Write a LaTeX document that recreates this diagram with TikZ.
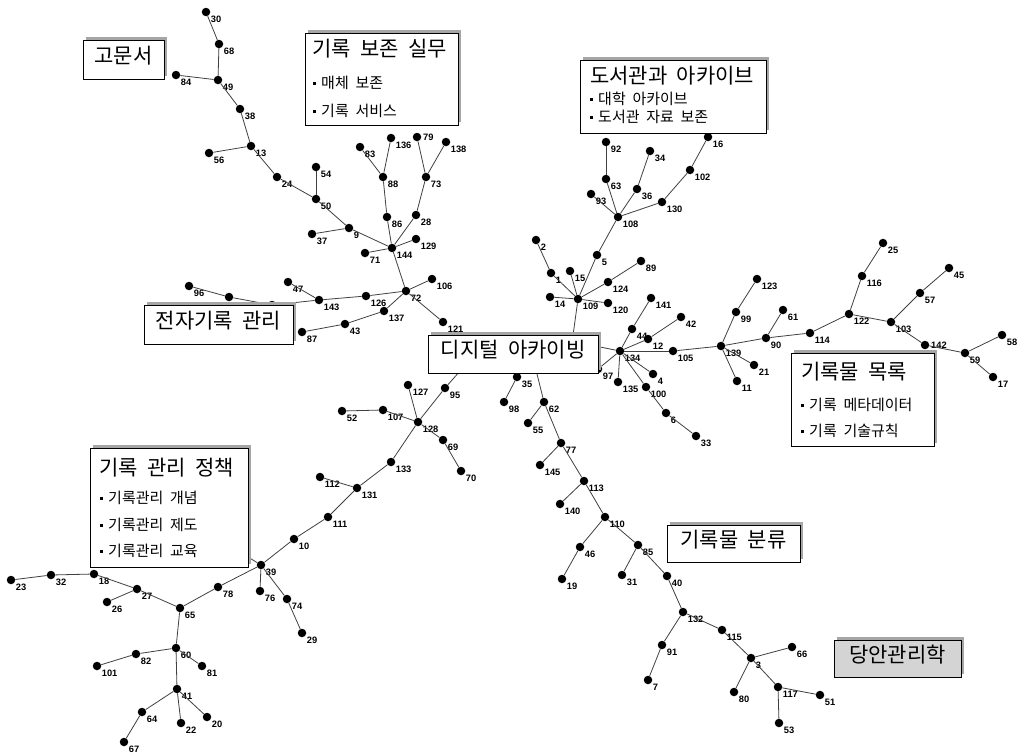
\documentclass[tikz,border=0pt]{standalone}
\usepackage{fontspec}
\usetikzlibrary{shadows}
\newfontfamily\kr[WordSpace=2]{Noto Sans CJK KR}
\newfontfamily\numfont{Liberation Sans}
% small square bullet for list items
\newcommand{\sq}{\raisebox{0.28em}{\rule{3pt}{3pt}}\hspace{5pt}}
% numbered vertex: optional label position, number, x, y
\newcommand{\vtx}[4][below right]{\node[dot,label={[lbl]#1:#2}] (n#2) at (#3,#4) {};}

\begin{document}
\begin{tikzpicture}[x=1pt,y=-1pt,
  dot/.style={circle,fill=black,inner sep=0pt,minimum size=8.5pt},
  lbl/.style={font=\numfont\bfseries\fontsize{9.3}{10}\selectfont,inner sep=0.3pt,xshift=1.2pt,text=black},
  edge/.style={draw=black!75,line width=0.8pt},
  box/.style={draw=black,line width=0.8pt,fill=white,inner sep=0pt,
    general shadow={fill=black!35,shadow xshift=3pt,shadow yshift=3pt}},
  title/.style={font=\kr\fontsize{21}{23}\selectfont,text height=0.8em,text depth=0.06em,inner sep=0pt},
  item/.style={font=\kr\fontsize{15}{17}\selectfont,text height=0.8em,text depth=0.06em,inner sep=0pt},
]
\useasboundingbox[fill=white] (0,0) rectangle (1019,755);

% ---------- upper left branch ----------
\vtx{30}{206}{12}
\vtx{68}{219}{44}
\vtx{49}{218}{80}
\vtx{84}{176}{75}
\vtx{38}{240}{109}
\vtx{13}{251}{146}
\vtx{56}{209}{153}
\vtx{24}{277}{177}
\vtx{54}{316}{167}
\vtx{50}{316}{199}
\vtx{9}{349}{228}
\vtx{37}{312}{234}
\vtx{144}{392}{248}
\vtx{71}{365}{253}
\vtx{129}{416}{239}
\vtx{86}{387}{217}
\vtx{28}{416}{215}
\vtx{88}{383}{177}
\vtx{83}{360}{147}
\vtx{136}{391}{138}
\vtx[right]{79}{417}{137}
\vtx{138}{446}{142}
\vtx{73}{426}{177}
\vtx{72}{406}{291}
\vtx{106}{432}{279}
\vtx{121}{443}{322}
\vtx{126}{366}{296}
\vtx{137}{384}{311}
\vtx{43}{345}{324}
\vtx{87}{302}{332}
\vtx{143}{319}{300}
\vtx{47}{288}{282}
\vtx{96}{189}{286}
\node[dot] (nu2) at (229,297) {};
\node[dot] (nu1) at (272,305) {};

% ---------- upper right branch ----------
\vtx{109}{578}{299}
\vtx{14}{550}{297}
\vtx{1}{551}{273}
\vtx{2}{536}{240}
\vtx{15}{570}{271}
\vtx{5}{597}{255}
\vtx{108}{618}{217}
\vtx{93}{591}{194}
\vtx{63}{606}{179}
\vtx{92}{606}{142}
\vtx{36}{637}{189}
\vtx{34}{650}{151}
\vtx{130}{662}{202}
\vtx{102}{690}{170}
\vtx{16}{708}{137}
\vtx{124}{608}{282}
\vtx{89}{641}{261}
\vtx{120}{608}{303}

% ---------- right branch ----------
\vtx{134}{620}{351}
\vtx{97}{598}{369}
\vtx{44}{632}{329}
\vtx{141}{651}{298}
\vtx{12}{648}{339}
\vtx{42}{681}{317}
\vtx{105}{673}{351}
\vtx{4}{653}{374}
\vtx{135}{618}{382}
\vtx{100}{646}{387}
\vtx{6}{666}{413}
\vtx{33}{696}{436}
\vtx{139}{721}{346}
\vtx{99}{736}{312}
\vtx{123}{757}{279}
\vtx{11}{737}{381}
\vtx{21}{754}{365}
\vtx{90}{766}{338}
\vtx{61}{783}{310}
\vtx{114}{810}{333}
\vtx{122}{849}{314}
\vtx{116}{862}{276}
\vtx{25}{883}{243}
\vtx{103}{891}{322}
\vtx{57}{920}{293}
\vtx{45}{949}{268}
\vtx[right]{142}{925}{345}
\vtx{59}{965}{353}
\vtx{58}{1002}{335}
\vtx{17}{993}{377}

% ---------- lower branch ----------
\vtx{35}{517}{377}
\vtx{98}{504}{402}
\vtx{62}{544}{402}
\vtx{55}{528}{423}
\vtx{77}{561}{443}
\vtx{145}{540}{465}
\vtx{113}{584}{481}
\vtx{140}{560}{504}
\vtx{110}{605}{517}
\vtx{46}{580}{547}
\vtx{19}{562}{579}
\vtx{85}{638}{545}
\vtx{31}{622}{575}
\vtx{40}{667}{576}
\vtx{132}{683}{612}
\vtx{91}{662}{645}
\vtx{7}{648}{680}
\vtx{115}{722}{630}
\vtx{3}{751}{658}
\vtx{66}{792}{647}
\vtx{80}{734}{692}
\vtx{117}{778}{687}
\vtx{51}{820}{695}
\vtx{53}{779}{723}

% ---------- lower left branch ----------
\vtx{95}{445}{388}
\vtx{127}{408}{385}
\vtx{128}{418}{422}
\vtx{107}{383}{410}
\vtx{52}{342}{411}
\vtx{69}{443}{440}
\vtx{70}{461}{471}
\vtx{133}{391}{462}
\vtx{131}{357}{488}
\vtx{112}{320}{477}
\vtx{111}{328}{517}
\vtx{10}{294}{539}
\vtx{39}{261}{565}
\vtx{76}{260}{591}
\vtx{74}{287}{599}
\vtx{29}{302}{633}
\vtx{78}{218}{587}
\vtx{65}{180}{608}
\vtx{27}{137}{589}
\vtx{26}{107}{602}
\vtx{18}{94}{574}
\vtx{32}{51}{575}
\vtx{23}{11}{580}
\vtx{60}{176}{648}
\vtx{82}{136}{654}
\vtx{101}{97}{666}
\vtx{81}{202}{666}
\vtx{41}{177}{689}
\vtx{64}{142}{712}
\vtx{67}{124}{742}
\vtx{22}{181}{723}
\vtx{20}{207}{717}

% attachment points hidden under the boxes
\coordinate (nh109) at (571,350);
\coordinate (nh134) at (590,345);
\coordinate (nh35) at (519,362);
\coordinate (nh62) at (534,362);
\coordinate (nh95) at (468,362);
\coordinate (nhpol) at (240,552);

% ---------- connectors ----------
\foreach \a/\b in {30/68,68/49,49/84,49/38,38/13,13/56,13/24,24/50,50/54,50/9,9/37,9/144,
  144/71,144/129,144/86,86/88,88/83,88/136,144/28,28/73,73/79,73/138,144/72,72/106,72/121,
  72/126,126/143,143/47,143/u1,u1/u2,u2/96,72/137,137/43,43/87,
  109/h109,109/14,109/1,1/2,109/15,109/5,5/108,108/93,108/63,63/92,108/36,36/34,108/130,
  130/102,102/16,109/124,124/89,109/120,
  134/h134,134/97,134/44,44/141,134/12,12/42,134/105,105/139,134/4,134/135,134/100,100/6,6/33,
  139/99,99/123,139/11,139/21,139/90,90/61,90/114,114/122,122/116,116/25,122/103,103/57,57/45,
  103/142,142/59,59/58,59/17,
  35/h35,35/98,62/h62,62/55,62/77,77/145,77/113,113/140,113/110,110/46,46/19,110/85,85/31,
  85/40,40/132,132/91,91/7,132/115,115/3,3/66,3/80,3/117,117/51,117/53,
  95/h95,95/128,128/127,128/107,107/52,128/69,69/70,128/133,133/131,131/112,131/111,111/10,
  10/39,39/hpol,39/76,39/74,74/29,39/78,78/65,65/27,27/26,27/18,18/32,32/23,65/60,60/82,
  82/101,60/81,60/41,41/64,64/67,41/22,41/20}
  \draw[edge] (n\a) -- (n\b);

% ---------- topic boxes ----------
\node[box,minimum width=170pt,minimum height=38pt] (hub) at (513,354) {};
\node[title] (hubt) at (hub.center) {디지털 아카이빙};

\node[box,minimum width=81pt,minimum height=39pt] (old) at (123.5,59.5) {};
\node[title] (oldt) at (old.center) {고문서};

\node[box,minimum width=149pt,minimum height=39pt] (erm) at (218.5,324.5) {};
\node[title] (ermt) at (erm.center) {전자기록 관리};

\node[box,minimum width=133pt,minimum height=37pt] (cls) at (733.5,543.5) {};
\node[title] (clst) at (cls.center) {기록물 분류};

\node[box,fill=black!17,minimum width=127pt,minimum height=37pt] (dang) at (897.5,658.5) {};
\node[title] (dangt) at (dang.center) {당안관리학};

\node[box,anchor=north west,minimum width=153pt,minimum height=92pt] (pres) at (305,33) {};
\node[title,anchor=west] (prest) at (312,53) {기록 보존 실무};
\node[item,anchor=west] (pres1) at (313,85) {\sq 매체 보존};
\node[item,anchor=west] (pres2) at (313,113) {\sq 기록 서비스};

\node[box,anchor=north west,minimum width=186pt,minimum height=73pt] (lib) at (580,60) {};
\node[title,anchor=west] (libt) at (590,80) {도서관과 아카이브};
\node[item,anchor=west] (lib1) at (590,101) {\sq 대학 아카이브};
\node[item,anchor=west] (lib2) at (590,119) {\sq 도서관 자료 보존};

\node[box,anchor=north west,minimum width=143pt,minimum height=93pt] (cat) at (791,353) {};
\node[title,anchor=west] (catt) at (801,376) {기록물 목록};
\node[item,anchor=west] (cat1) at (801,407) {\sq 기록 메타데이터};
\node[item,anchor=west] (cat2) at (801,433) {\sq 기록 기술규칙};

\node[box,anchor=north west,minimum width=158pt,minimum height=119pt] (pol) at (90,448) {};
\node[title,anchor=west] (polt) at (99,472) {기록 관리 정책};
\node[item,anchor=west] (pol1) at (100,500) {\sq 기록관리 개념};
\node[item,anchor=west] (pol2) at (100,527) {\sq 기록관리 제도};
\node[item,anchor=west] (pol3) at (100,553) {\sq 기록관리 교육};
\end{tikzpicture}
\end{document}
